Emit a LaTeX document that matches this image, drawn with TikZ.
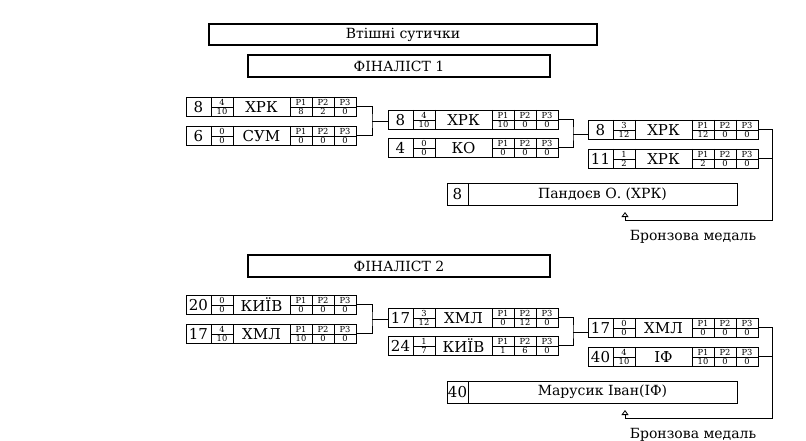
\documentclass[tikz,border=0pt]{standalone}
\usepackage{fontspec}
\setmainfont{DejaVu Serif}
\usetikzlibrary{arrows.meta}
\tikzset{
  mbox/.style={draw, line width=0.8pt, anchor=north west, inner sep=0pt, outer sep=0pt, minimum width=170pt, minimum height=19pt},
  big/.style={inner sep=0pt, font=\fontsize{15}{15}\selectfont},
  tiny/.style={inner sep=0pt, font=\fontsize{8.3}{8.3}\selectfont},
  cell/.style={line width=0.8pt},
  conn/.style={line width=0.8pt},
  head/.style={draw, line width=1.8pt, inner sep=0pt, font=\fontsize{14}{14}\selectfont},
  namebox/.style={draw, line width=0.8pt, anchor=north west, inner sep=0pt, outer sep=0pt, minimum width=290pt, minimum height=22pt},
  medal/.style={inner sep=0pt, font=\fontsize{14}{14}\selectfont},
  arr/.style={conn, -{Triangle[open, width=7pt, length=5pt]}}
}
\newcommand\pvals[4]{%
  \node[tiny] (#1x) at (115,14.9) {#2};
  \node[tiny] (#1y) at (137,14.9) {#3};
  \node[tiny] (#1z) at (159,14.9) {#4};
}
\newcommand\matchbox[7]{%
 \begin{scope}[shift={(#2)}]
  \node[mbox] (#1) at (0,0) {};
  \draw[cell] (25,0) -- (25,19) (47,0) -- (47,19) (104,0) -- (104,19)
     (126,0) -- (126,19) (148,0) -- (148,19) (25,10.5) -- (47,10.5) (104,10.5) -- (170,10.5);
  \node[big] (#1n) at (12.5,9.8) {#3};
  \node[tiny] (#1ft) at (36,5.3) {#4};
  \node[tiny] (#1fb) at (36,14.9) {#5};
  \node[big] (#1t) at (75.5,9.8) {#6};
  \node[tiny] (#1a) at (115,5.3) {P1};
  \node[tiny] (#1b) at (137,5.3) {P2};
  \node[tiny] (#1c) at (159,5.3) {P3};
  \pvals{#1}#7
 \end{scope}}
\newcommand\finalname[4]{%
 \begin{scope}[shift={(#2)}]
  \node[namebox] (#1) at (0,0) {};
  \draw[cell] (21,0) -- (21,22);
  \node[big] (#1n) at (10.5,11) {#3};
  \node[big, font=\fontsize{14}{14}\selectfont] (#1t) at (155.5,11) {#4};
 \end{scope}}
\begin{document}
\begin{tikzpicture}[x=1pt,y=-1pt]
\useasboundingbox (0,0) rectangle (806,441);
\node[head, minimum width=388pt, minimum height=21pt] (hdr) at (403,34.5) {Втішні сутички};
% ---------- half 1
\node[head, minimum width=302pt, minimum height=22pt] (f1) at (399,66) {ФІНАЛІСТ 1};
\matchbox{a11}{186,97}{8}{4}{10}{ХРК}{{8}{2}{0}}
\matchbox{a12}{186,126}{6}{0}{0}{СУМ}{{0}{0}{0}}
\matchbox{a21}{388,110}{8}{4}{10}{ХРК}{{10}{0}{0}}
\matchbox{a22}{388,138}{4}{0}{0}{КО}{{0}{0}{0}}
\matchbox{a31}{588,120}{8}{3}{12}{ХРК}{{12}{0}{0}}
\matchbox{a32}{588,149}{11}{1}{2}{ХРК}{{2}{0}{0}}
\finalname{an}{447,183}{8}{Пандоєв О. (ХРК)}
\coordinate (ab1) at (372,121);
\coordinate (ab2) at (573,134);
\coordinate (ac) at (772,220);
\coordinate (at) at (625,212);
\draw[conn] (a11.east) -| (ab1) |- (a12.east);
\draw[conn] (ab1) -- (ab1 -| a21.west);
\draw[conn] (a21.east) -| (ab2) |- (a22.east);
\draw[conn] (ab2) -- (ab2 -| a31.west);
\draw[conn] (a32.east) -- (a32.east -| ac);
\draw[arr] (a31.east) -| (ac) -| (at);
\node[medal] (am) at (693,237) {Бронзова медаль};
% ---------- half 2
\node[head, minimum width=302pt, minimum height=22pt] (f2) at (399,266) {ФІНАЛІСТ 2};
\matchbox{b11}{186,295}{20}{0}{0}{КИЇВ}{{0}{0}{0}}
\matchbox{b12}{186,324}{17}{4}{10}{ХМЛ}{{10}{0}{0}}
\matchbox{b21}{388,308}{17}{3}{12}{ХМЛ}{{0}{12}{0}}
\matchbox{b22}{388,336}{24}{1}{7}{КИЇВ}{{1}{6}{0}}
\matchbox{b31}{588,318}{17}{0}{0}{ХМЛ}{{0}{0}{0}}
\matchbox{b32}{588,347}{40}{4}{10}{ІФ}{{10}{0}{0}}
\finalname{bn}{447,381}{40}{Марусик Іван(ІФ)}
\coordinate (bb1) at (372,319);
\coordinate (bb2) at (573,332);
\coordinate (bc) at (772,418);
\coordinate (bt) at (625,410);
\draw[conn] (b11.east) -| (bb1) |- (b12.east);
\draw[conn] (bb1) -- (bb1 -| b21.west);
\draw[conn] (b21.east) -| (bb2) |- (b22.east);
\draw[conn] (bb2) -- (bb2 -| b31.west);
\draw[conn] (b32.east) -- (b32.east -| bc);
\draw[arr] (b31.east) -| (bc) -| (bt);
\node[medal] (bm) at (693,435) {Бронзова медаль};
\end{tikzpicture}
\end{document}
